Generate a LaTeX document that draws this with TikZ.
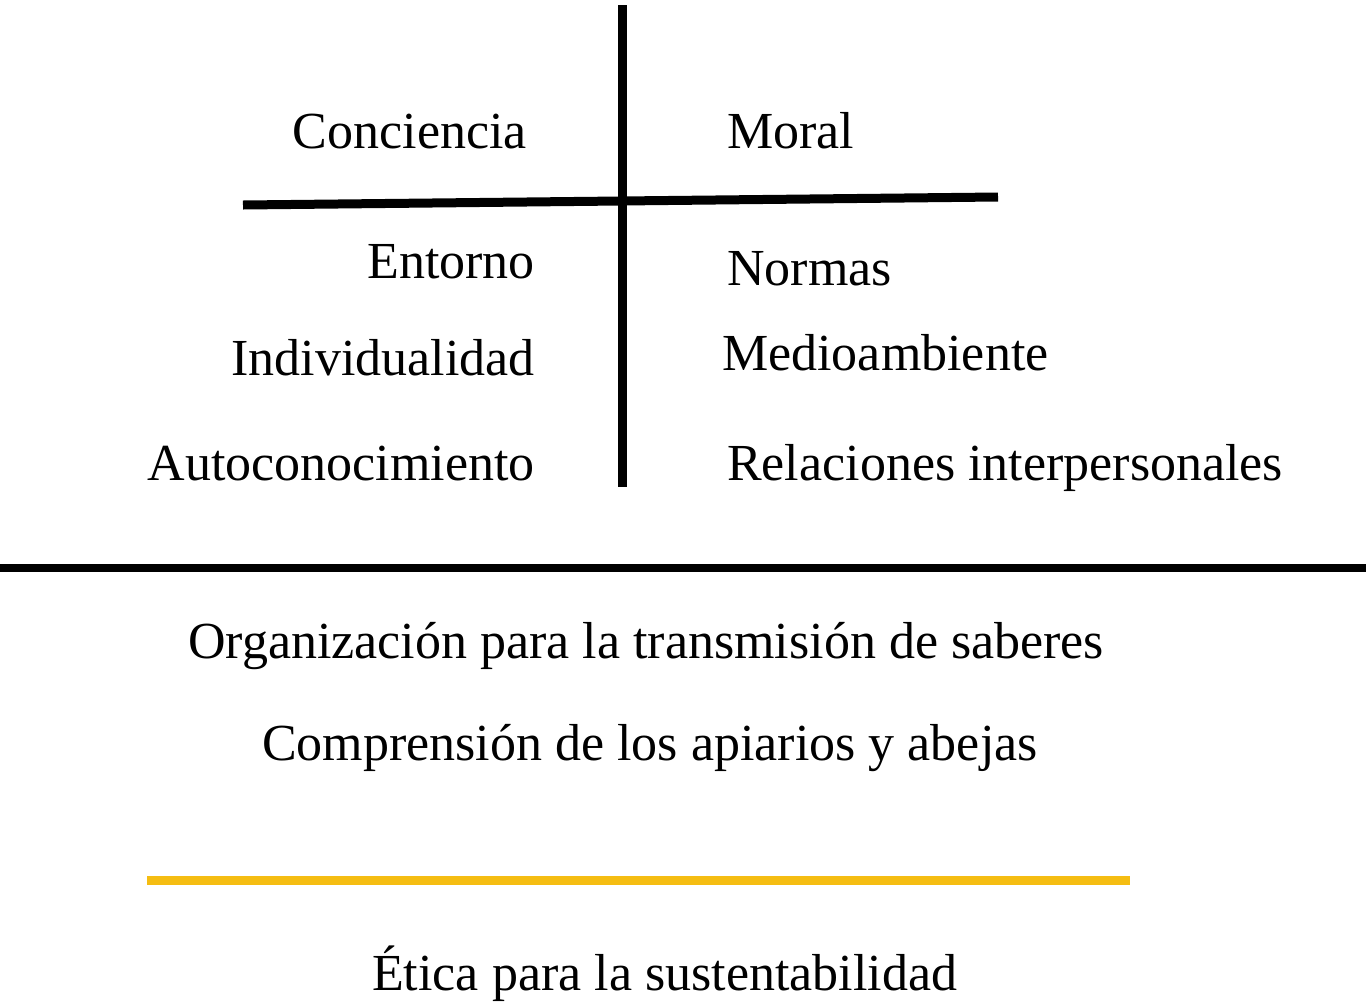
\documentclass[tikz,border=0pt]{standalone}
\usepackage{fontspec}
\setmainfont{Liberation Serif}
\definecolor{goldline}{HTML}{F5BD12}
\begin{document}
\begin{tikzpicture}[x=1pt,y=-1pt,
  lbl/.style={inner sep=0pt,font=\fontsize{52}{60}\selectfont},
  rl/.style={lbl,anchor=base east},
  ll/.style={lbl,anchor=base west},
  bar/.style={line width=9pt,line cap=butt}]
\useasboundingbox (0,0) rectangle (1369,1005);
% lines
\coordinate (vt) at (622,5);
\coordinate (vb) at (622,487);
\coordinate (hl) at (243,205);
\coordinate (hr) at (998,197);
\coordinate (ll) at (0,568);
\coordinate (lr) at (1366,568);
\coordinate (yl) at (147,880);
\coordinate (yr) at (1130,880);
\draw[bar] (vt) -- (vb);
\draw[bar] (hl) -- (hr);
\draw[bar,line width=8pt] (ll) -- (lr);
\draw[bar,goldline] (yl) -- (yr);
% texts
\node[rl] (conc) at (527,148) {Conciencia};
\node[ll] (moral) at (727,148) {Moral};
\node[rl] (ent) at (535,278) {Entorno};
\node[ll] (norm) at (727,285) {Normas};
\node[rl] (ind) at (535,375) {Individualidad};
\node[ll] (med) at (722,370) {Medioambiente};
\node[rl] (auto) at (535,480) {Autoconocimiento};
\node[ll] (rel) at (727,480) {Relaciones interpersonales};
\node[ll] (org) at (188,658) {Organización para la transmisión de saberes};
\node[ll] (comp) at (262,760) {Comprensión de los apiarios y abejas};
\node[ll] (etica) at (372,990) {Ética para la sustentabilidad};
\end{tikzpicture}
\end{document}
